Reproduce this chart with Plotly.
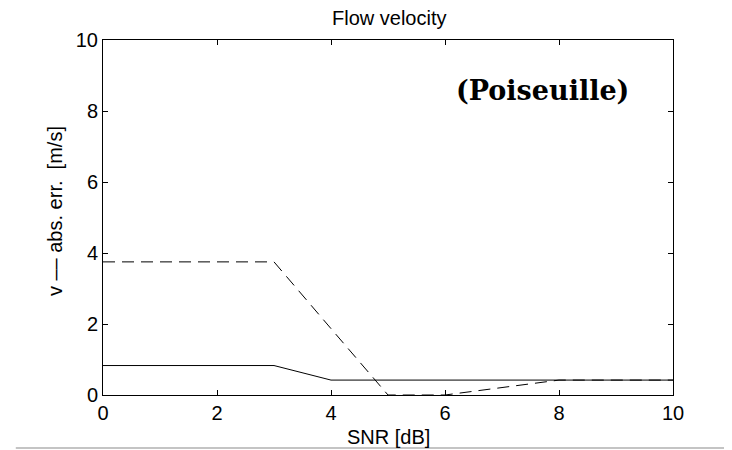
import plotly.graph_objects as go

snr = [0, 1, 2, 3, 4, 5, 6, 7, 8, 9, 10]
err_solid = [0.83, 0.83, 0.83, 0.83, 0.42, 0.42, 0.42, 0.42, 0.42, 0.42, 0.42]
err_dashed = [3.75, 3.75, 3.75, 3.75, 1.87, 0.0, 0.0, 0.21, 0.42, 0.42, 0.42]

x_ticks = [0, 2, 4, 6, 8, 10]
y_ticks = [0, 2, 4, 6, 8, 10]

title_text = "Flow velocity"
x_title = "SNR [dB]"
y_title = "v \u2013\u2013 abs. err.\u00a0 [m/s]"
note_text = "<b>(Poiseuille)</b>"

font = "Liberation Sans, Arial, Helvetica, sans-serif"

fig = go.Figure()
fig.add_trace(go.Scatter(x=snr, y=err_dashed, mode="lines",
                         line=dict(color="black", width=1, dash="12px,7px"),
                         showlegend=False))
fig.add_trace(go.Scatter(x=snr, y=err_solid, mode="lines",
                         line=dict(color="black", width=1),
                         showlegend=False))

axis_common = dict(showgrid=False, zeroline=False, showline=True, linecolor="black",
                   linewidth=1, mirror="ticks", ticks="inside", ticklen=5,
                   tickcolor="black", tickwidth=1,
                   tickfont=dict(family=font, size=20, color="black"))

fig.update_layout(
    width=732, height=450,
    margin=dict(l=95, r=67, t=32, b=63),
    paper_bgcolor="white", plot_bgcolor="white",
    xaxis=dict(range=[0, 10], tickvals=x_ticks, **axis_common),
    yaxis=dict(range=[0, 10], tickvals=y_ticks, **axis_common),
    annotations=[
        dict(text=note_text, x=9.26, y=8.59, xref="x", yref="y",
             xanchor="right", yanchor="middle", showarrow=False,
             font=dict(family="DejaVu Serif, Liberation Serif, serif", size=27, color="black")),
        dict(text=title_text, x=0.502, y=1.062, xref="paper", yref="paper",
             xanchor="center", yanchor="middle", showarrow=False,
             font=dict(family=font, size=20, color="black")),
        dict(text=x_title, x=0.5, y=-0.118, xref="paper", yref="paper",
             xanchor="center", yanchor="middle", showarrow=False,
             font=dict(family=font, size=20, color="black")),
        dict(text=y_title, x=-0.0842, y=0.518, xref="paper", yref="paper",
             xanchor="center", yanchor="middle", showarrow=False, textangle=-90,
             font=dict(family=font, size=20, color="black")),
    ],
    shapes=[dict(type="line", xref="paper", yref="paper", x0=-0.153, x1=1.2,
                 y0=-0.149, y1=-0.149, line=dict(color="#c4c4c4", width=2))],
)

fig.write_html("out.html")
